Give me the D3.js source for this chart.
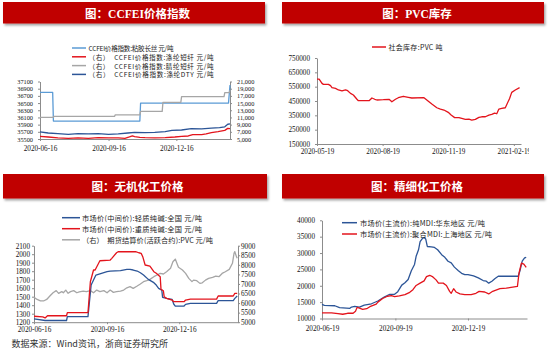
<!DOCTYPE html>
<html>
<head>
<meta charset="utf-8">
<script src="https://cdn.jsdelivr.net/npm/d3@7"></script>
<style>
  body { margin: 0; background: #fff; }
  svg { display: block; }
  .tick text { font-family: "Liberation Serif", "Times New Roman", serif; font-size: 7.2px; fill: #111; }
  .xaxis .tick text { font-size: 7.2px; }
  .domain, .tick line { stroke: #8c8c8c; }
  .legend text { font-family: "Noto Sans CJK SC", sans-serif; fill: #222; }
  .title { font-family: "Liberation Serif", "Noto Sans CJK SC", serif; font-weight: bold; font-size: 11.5px; fill: #fff; }
  .source { font-family: "Noto Sans CJK SC", sans-serif; font-size: 9px; fill: #333; }
</style>
</head>
<body>
<svg id="chart" width="550" height="352"></svg>
<script>
// ---------- data ----------

// CCFEI price index (left: viscose filament, right: the rest)
const viscoseFilament = [["2020-06-16",36800],["2020-07-03",36800],["2020-07-04",36000],["2020-10-28",36000],["2020-10-29",36500],["2021-02-24",36500],["2021-02-26",37000]];
const polyesterStaple = [["2020-06-16",5750],["2020-06-27",5560],["2020-07-10",5300],["2020-07-24",5190],["2020-08-06",5300],["2020-08-20",5190],["2020-09-02",5380],["2020-09-16",5300],["2020-09-29",5300],["2020-10-08",5190],["2020-10-14",5560],["2020-10-18",5840],["2020-10-21",5650],["2020-10-28",5470],["2020-11-04",5380],["2020-11-17",5300],["2020-12-01",5380],["2020-12-14",5560],["2020-12-23",5750],["2021-01-01",5840],["2021-01-07",6210],["2021-01-19",6210],["2021-01-25",6400],["2021-02-01",6770],["2021-02-10",7050],["2021-02-19",7400],["2021-02-23",7960],["2021-02-26",7870]];
const acrylicStaple = [["2020-06-16",11000],["2020-07-03",11000],["2020-07-05",11300],["2020-09-24",11300],["2020-09-25",11700],["2020-10-28",11700],["2020-10-29",12700],["2020-11-27",12700],["2020-11-28",15200],["2020-12-22",15200],["2020-12-23",16800],["2021-02-18",16800],["2021-02-19",17900],["2021-02-25",17900],["2021-02-26",18600]];
const polyesterDTY = [["2020-06-16",7000],["2020-06-27",6670],["2020-07-10",6480],["2020-07-24",6300],["2020-08-06",6480],["2020-08-20",6400],["2020-09-02",6480],["2020-09-16",6300],["2020-09-29",6400],["2020-10-12",6670],["2020-10-21",6850],["2020-11-04",6760],["2020-11-17",6850],["2020-12-01",7030],["2020-12-10",7400],["2020-12-23",7500],["2021-01-05",7900],["2021-01-19",7800],["2021-02-01",8000],["2021-02-12",8150],["2021-02-19",8400],["2021-02-23",9100],["2021-02-26",9200]];
const ccfeiDates = ["2020-06-16","2020-09-16","2020-12-16"];
const ccfeiLeftTicks = [35500,35700,35900,36100,36300,36500,36700,36900,37100];
const ccfeiRightTicks = [5000,7000,9000,11000,13000,15000,17000,19000,21000];

// PVC social inventory
const pvcStock = [["2020-05-19",603000],["2020-05-22",603000],["2020-05-26",573000],["2020-05-28",566000],["2020-06-04",566000],["2020-06-07",557000],["2020-06-09",543000],["2020-06-14",538000],["2020-06-18",527000],["2020-06-23",520000],["2020-06-28",527000],["2020-07-01",522000],["2020-07-05",503000],["2020-07-09",492000],["2020-07-14",462000],["2020-07-16",452000],["2020-07-26",452000],["2020-07-31",452000],["2020-08-04",471000],["2020-08-08",462000],["2020-08-11",457000],["2020-08-20",459000],["2020-08-28",462000],["2020-09-01",445000],["2020-09-06",462000],["2020-09-10",473000],["2020-09-17",483000],["2020-09-24",476000],["2020-09-29",471000],["2020-10-16",473000],["2020-10-23",445000],["2020-10-27",429000],["2020-11-03",403000],["2020-11-08",394000],["2020-11-13",387000],["2020-11-19",371000],["2020-11-23",352000],["2020-11-28",334000],["2020-12-04",334000],["2020-12-08",329000],["2020-12-13",322000],["2020-12-18",324000],["2020-12-22",317000],["2020-12-27",322000],["2021-01-01",336000],["2021-01-05",340000],["2021-01-10",340000],["2021-01-15",352000],["2021-01-19",357000],["2021-01-23",366000],["2021-01-26",361000],["2021-01-29",394000],["2021-02-02",399000],["2021-02-07",403000],["2021-02-13",468000],["2021-02-16",510000],["2021-02-21",527000],["2021-02-27",543000]];
const pvcDates = ["2020-05-19","2020-08-19","2020-11-19","2021-02-19"];
const pvcTicks = [150000,250000,350000,450000,550000,650000,750000];

// Inorganic chemicals: soda ash (left), PVC futures (right)
const lightSodaAsh = [["2020-06-16",1240],["2020-06-30",1220],["2020-07-27",1220],["2020-07-28",1265],["2020-08-23",1265],["2020-08-27",1637],["2020-08-30",1696],["2020-09-02",1755],["2020-09-09",1775],["2020-09-16",1794],["2020-09-20",1802],["2020-10-03",1806],["2020-10-11",1821],["2020-10-15",1821],["2020-10-19",1814],["2020-10-24",1802],["2020-10-28",1782],["2020-11-01",1755],["2020-11-07",1704],["2020-11-14",1665],["2020-11-17",1637],["2020-11-20",1598],["2020-11-24",1578],["2020-11-25",1492],["2020-11-30",1480],["2020-12-07",1469],["2020-12-09",1414],["2020-12-11",1390],["2020-12-22",1390],["2020-12-24",1410],["2020-12-30",1421],["2021-02-01",1421],["2021-02-03",1453],["2021-02-22",1453],["2021-02-24",1480],["2021-02-27",1508]];
const denseSodaAsh = [["2020-06-16",1270],["2020-06-27",1262],["2020-06-30",1250],["2020-07-03",1276],["2020-07-27",1276],["2020-07-28",1312],["2020-08-23",1312],["2020-08-26",1676],["2020-08-30",1814],["2020-09-01",1814],["2020-09-07",1923],["2020-09-20",1931],["2020-09-22",1951],["2020-09-28",2017],["2020-09-30",2029],["2020-10-22",2029],["2020-10-26",2017],["2020-10-29",2010],["2020-10-31",1971],["2020-11-03",1873],["2020-11-09",1861],["2020-11-14",1794],["2020-11-17",1775],["2020-11-22",1735],["2020-11-23",1586],["2020-11-26",1570],["2020-11-27",1500],["2020-11-30",1480],["2020-12-07",1461],["2020-12-09",1441],["2020-12-22",1441],["2020-12-24",1461],["2020-12-30",1472],["2021-02-01",1472],["2021-02-03",1508],["2021-02-22",1508],["2021-02-24",1539],["2021-02-27",1539]];
const pvcFutures = [["2020-06-16",6300],["2020-06-20",6190],["2020-06-24",6120],["2020-06-28",6110],["2020-07-02",6190],["2020-07-06",6370],["2020-07-10",6540],["2020-07-14",6650],["2020-07-17",6510],["2020-07-21",6600],["2020-07-23",6540],["2020-07-26",6680],["2020-07-29",6510],["2020-08-01",6600],["2020-08-05",6650],["2020-08-09",6540],["2020-08-12",6580],["2020-08-17",6630],["2020-08-21",6600],["2020-08-26",6650],["2020-08-30",6540],["2020-09-03",6680],["2020-09-07",6600],["2020-09-12",6650],["2020-09-16",6540],["2020-09-20",6680],["2020-09-24",6560],["2020-09-28",6600],["2020-10-03",6630],["2020-10-07",6680],["2020-10-11",6800],["2020-10-15",6860],["2020-10-19",6770],["2020-10-24",6890],["2020-10-28",7000],["2020-11-01",7120],["2020-11-05",7170],["2020-11-09",7240],["2020-11-14",7380],["2020-11-18",7470],["2020-11-22",7550],["2020-11-26",7520],["2020-11-30",7640],["2020-12-05",7820],["2020-12-08",8160],["2020-12-11",8300],["2020-12-13",8080],["2020-12-15",7870],["2020-12-20",7730],["2020-12-24",7550],["2020-12-28",7290],["2021-01-01",7120],["2021-01-03",7200],["2021-01-07",7170],["2021-01-11",7030],["2021-01-14",7060],["2021-01-18",7200],["2021-01-22",7290],["2021-01-27",7340],["2021-01-31",7410],["2021-02-04",7380],["2021-02-08",7550],["2021-02-12",7640],["2021-02-17",7760],["2021-02-21",8080],["2021-02-23",8600],["2021-02-24",8690],["2021-02-26",8430],["2021-02-27",8340]];
const inorganicDates = ["2020-06-16","2020-09-16","2020-12-16"];
const sodaTicks = [1200,1300,1400,1500,1600,1700,1800,1900,2000,2100];
const futuresTicks = [5000,5500,6000,6500,7000,7500,8000,8500,9000];

// Fine chemicals: MDI
const pureMDI = [["2020-06-19",14300],["2020-06-22",14000],["2020-07-05",13900],["2020-07-11",13300],["2020-07-24",13100],["2020-07-26",13500],["2020-07-30",13700],["2020-08-05",13500],["2020-08-11",14100],["2020-08-20",14500],["2020-08-28",15350],["2020-09-05",16550],["2020-09-12",17400],["2020-09-18",17400],["2020-09-22",18200],["2020-09-27",20200],["2020-10-01",20900],["2020-10-05",21900],["2020-10-09",24600],["2020-10-13",26500],["2020-10-15",29000],["2020-10-18",31000],["2020-10-20",33500],["2020-10-23",34500],["2020-10-25",34750],["2020-10-27",34300],["2020-10-29",32000],["2020-11-03",31900],["2020-11-07",31700],["2020-11-11",31000],["2020-11-16",29500],["2020-11-20",28700],["2020-11-24",27500],["2020-11-28",27000],["2020-12-02",25700],["2020-12-07",24600],["2020-12-11",23800],["2020-12-15",23400],["2020-12-19",23400],["2020-12-26",23000],["2021-01-01",22400],["2021-01-07",21600],["2021-01-11",21400],["2021-01-14",20800],["2021-01-18",21400],["2021-01-22",22200],["2021-01-26",22900],["2021-02-20",22900],["2021-02-22",24400],["2021-02-25",27500],["2021-02-28",28500],["2021-03-02",28700]];
const polymericMDI = [["2020-06-19",11700],["2020-07-01",11700],["2020-07-09",11500],["2020-07-15",11300],["2020-07-21",11600],["2020-07-28",11600],["2020-07-31",12200],["2020-08-02",13400],["2020-08-05",13200],["2020-08-09",12800],["2020-08-14",13000],["2020-08-18",13600],["2020-08-22",14000],["2020-08-26",14400],["2020-08-28",15000],["2020-09-03",16100],["2020-09-09",16800],["2020-09-14",17000],["2020-09-18",16700],["2020-09-24",16900],["2020-10-01",17300],["2020-10-07",18000],["2020-10-11",18800],["2020-10-15",20100],["2020-10-20",20800],["2020-10-25",21500],["2020-10-28",22800],["2020-11-01",23200],["2020-11-05",22700],["2020-11-09",21800],["2020-11-12",20800],["2020-11-18",20800],["2020-11-22",20100],["2020-11-26",18300],["2020-11-28",17700],["2020-12-01",19100],["2020-12-04",18100],["2020-12-09",17500],["2020-12-15",17300],["2020-12-23",17300],["2020-12-29",17700],["2021-01-02",18300],["2021-01-09",18100],["2021-01-14",17500],["2021-01-19",18300],["2021-01-28",19100],["2021-02-05",19300],["2021-02-11",19500],["2021-02-19",19800],["2021-02-21",23900],["2021-02-24",26900],["2021-02-27",26600],["2021-03-02",25600]];
const mdiDates = ["2020-06-19","2020-09-19","2020-12-19"];
const mdiTicks = [10000,15000,20000,25000,30000,35000,40000];

// ---------- colours ----------
const LIGHT_BLUE = "#5b9bd5", RED = "#e3141c", GRAY = "#a6a6a6", NAVY = "#2c5597";

const svg = d3.select("#chart");
const parse = d3.timeParse("%Y-%m-%d");
const fmtDate = d3.timeFormat("%Y-%m-%d");

// drop shadow for the red title bars
svg.append("defs").append("filter")
    .attr("id", "shadow").attr("x", "-5%").attr("y", "-30%").attr("width", "112%").attr("height", "170%")
  .append("feDropShadow")
    .attr("dx", 1.5).attr("dy", 2).attr("stdDeviation", 1)
    .attr("flood-color", "#000").attr("flood-opacity", 0.35);

// legend: x = line start, len = line length, widths = text widths per legend row
const panels = [
  {
    title: "图：CCFEI价格指数", bar: [3, 2, 265, 23.5], titleAt: [137.5, 13.5],
    xDomain: ["2020-06-16", "2021-02-26"], xRange: [40, 230], yRange: [139, 81.5],
    dates: ccfeiDates, datePad: 5, tickSize: 6.3,
    left: { domain: [35500, 37100], ticks: ccfeiLeftTicks, fmt: d3.format("d"), pad: 5 },
    right: { domain: [5000, 21000], ticks: ccfeiRightTicks, fmt: d3.format(","), pad: 5 },
    series: [
      { data: viscoseFilament, color: LIGHT_BLUE, axis: "left", name: "CCFEI价格指数:粘胶长丝 元/吨" },
      { data: polyesterStaple, color: RED, axis: "right", name: "（右）  CCFEI价格指数:涤纶短纤 元/吨" },
      { data: acrylicStaple, color: GRAY, axis: "right", name: "（右）  CCFEI价格指数:腈纶短纤 元/吨" },
      { data: polyesterDTY, color: NAVY, axis: "right", name: "（右）  CCFEI价格指数:涤纶DTY 元/吨" }
    ],
    legend: { x: 72, len: 14, gap: 2.5, ys: [48, 56.8, 65.6, 74.4], size: 6.6, widths: [85, 125, 125, 125] }
  },
  {
    title: "图：PVC库存", bar: [282, 2, 544, 23.5], titleAt: [417, 13.5],
    xDomain: ["2020-05-19", "2021-03-01"], xRange: [317, 521], yRange: [144, 58],
    dates: pvcDates, datePad: 3, clipRight: 529,
    left: { domain: [150000, 750000], ticks: pvcTicks, fmt: d3.format("d"), pad: 5 },
    series: [
      { data: pvcStock, color: RED, axis: "left", name: "社会库存:PVC 吨" }
    ],
    legend: { x: 372, len: 14, gap: 2.5, ys: [47], size: 7, widths: [54] }
  },
  {
    title: "图：无机化工价格", bar: [3, 174, 267, 198.5], titleAt: [137.5, 187],
    xDomain: ["2020-06-16", "2021-02-28"], xRange: [34, 238], yRange: [322.2, 245.7],
    dates: inorganicDates, datePad: 3,
    left: { domain: [1200, 2100], ticks: sodaTicks, fmt: d3.format("d"), pad: 2 },
    right: { domain: [5000, 9000], ticks: futuresTicks, fmt: d3.format("d"), pad: 1 },
    series: [
      { data: pvcFutures, color: GRAY, axis: "right", name: "（右）  期货结算价(活跃合约):PVC 元/吨", legendRow: 2 },
      { data: lightSodaAsh, color: NAVY, axis: "left", name: "市场价(中间价):轻质纯碱:全国 元/吨", legendRow: 0 },
      { data: denseSodaAsh, color: RED, axis: "left", name: "市场价(中间价):重质纯碱:全国 元/吨", legendRow: 1 }
    ],
    legend: { x: 62, len: 18, gap: 2, ys: [217.7, 228.7, 239.8], size: 7.2, widths: [120, 120, 131] }
  },
  {
    title: "图：精细化工价格", bar: [282, 174, 544, 198.5], titleAt: [417, 187],
    xDomain: ["2020-06-19", "2021-03-03"], xRange: [322, 527], yRange: [318.5, 220.3],
    dates: mdiDates, datePad: 5,
    left: { domain: [10000, 40000], ticks: mdiTicks, fmt: d3.format("d"), pad: 5 },
    series: [
      { data: pureMDI, color: NAVY, axis: "left", name: "市场价(主流价):纯MDI:华东地区 元/吨" },
      { data: polymericMDI, color: RED, axis: "left", name: "市场价(主流价):聚合MDI:上海地区 元/吨" }
    ],
    legend: { x: 342, len: 15, gap: 3, ys: [222.7, 234], size: 7.2, widths: [125, 132] }
  }
];

panels.forEach((p, idx) => drawPanel(p, idx));

function drawPanel(p, idx) {
  const g = svg.append("g");

  // red title bar
  g.append("rect")
    .attr("x", p.bar[0]).attr("y", p.bar[1])
    .attr("width", p.bar[2] - p.bar[0]).attr("height", p.bar[3] - p.bar[1])
    .attr("fill", "#c00000")
    .attr("filter", "url(#shadow)");
  g.append("text")
    .attr("class", "title")
    .attr("x", p.titleAt[0]).attr("y", p.titleAt[1])
    .attr("text-anchor", "middle")
    .attr("dominant-baseline", "central")
    .text(p.title);

  // scales
  const x = d3.scaleTime().domain(p.xDomain.map(parse)).range(p.xRange);
  const yLeft = d3.scaleLinear().domain(p.left.domain).range(p.yRange);
  const yRight = p.right ? d3.scaleLinear().domain(p.right.domain).range(p.yRange) : null;

  // x axis (wrapped so the last date can be cut at the chart edge)
  let xHolder = g.append("g");
  if (p.clipRight) {
    g.append("clipPath").attr("id", "clip" + idx)
      .append("rect").attr("x", p.xRange[0] - 40).attr("y", 0)
      .attr("width", p.clipRight - p.xRange[0] + 40).attr("height", 352);
    xHolder.attr("clip-path", `url(#clip${idx})`);
  }
  xHolder.append("g")
    .attr("class", "xaxis")
    .attr("transform", `translate(0,${p.yRange[0]})`)
    .call(d3.axisBottom(x)
      .tickValues(p.dates.map(parse))
      .tickFormat(fmtDate)
      .tickSizeInner(2).tickSizeOuter(0)
      .tickPadding(p.datePad));

  const leftG = g.append("g")
    .attr("transform", `translate(${p.xRange[0]},0)`)
    .call(d3.axisLeft(yLeft)
      .tickValues(p.left.ticks)
      .tickFormat(p.left.fmt)
      .tickSizeInner(2).tickSizeOuter(0)
      .tickPadding(p.left.pad));
  if (p.tickSize) leftG.selectAll(".tick text").style("font-size", p.tickSize + "px");

  if (yRight) {
    const rightG = g.append("g")
      .attr("transform", `translate(${p.xRange[1]},0)`)
      .call(d3.axisRight(yRight)
        .tickValues(p.right.ticks)
        .tickFormat(p.right.fmt)
        .tickSizeInner(2).tickSizeOuter(0)
        .tickPadding(p.right.pad));
    if (p.tickSize) rightG.selectAll(".tick text").style("font-size", p.tickSize + "px");
  }

  // lines
  p.series.forEach(s => {
    const y = s.axis === "right" ? yRight : yLeft;
    const line = d3.line()
      .x(d => x(parse(d[0])))
      .y(d => y(d[1]));
    g.append("path")
      .datum(s.data)
      .attr("fill", "none")
      .attr("stroke", s.color)
      .attr("stroke-width", 1.3)
      .attr("stroke-linejoin", "round")
      .attr("d", line);
  });

  // legend
  const L = p.legend;
  const lg = g.append("g").attr("class", "legend");
  p.series.forEach((s, i) => {
    const row = s.legendRow !== undefined ? s.legendRow : i;
    const ly = L.ys[row];
    lg.append("line")
      .attr("x1", L.x).attr("x2", L.x + L.len)
      .attr("y1", ly).attr("y2", ly)
      .attr("stroke", s.color).attr("stroke-width", 1.5);
    lg.append("text")
      .attr("x", L.x + L.len + L.gap).attr("y", ly)
      .attr("dominant-baseline", "central")
      .attr("textLength", L.widths[row])
      .attr("lengthAdjust", "spacing")
      .style("font-size", L.size + "px")
      .style("white-space", "pre")
      .text(s.name);
  });
}

// source note
svg.append("text")
  .attr("class", "source")
  .attr("x", 11.5).attr("y", 343.5)
  .attr("dominant-baseline", "central")
  .text("数据来源：Wind资讯，浙商证券研究所");
</script>
</body>
</html>
